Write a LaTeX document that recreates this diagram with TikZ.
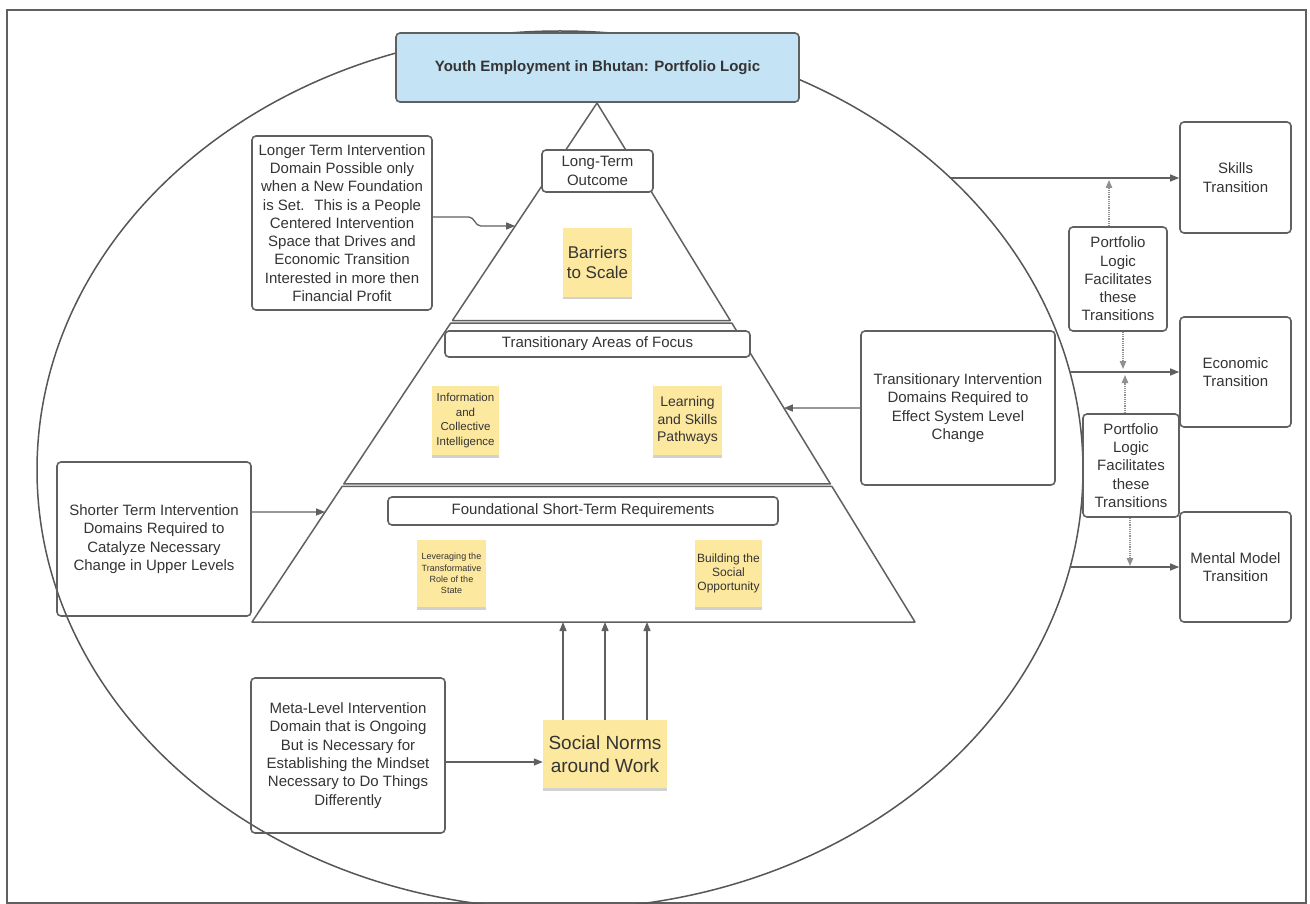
\documentclass[tikz,border=0pt]{standalone}
\usepackage{fontspec}
\setmainfont{Liberation Sans}
\usetikzlibrary{arrows.meta,calc,shadows}
\definecolor{ink}{RGB}{52,52,52}
\definecolor{edge}{RGB}{96,96,96}
\definecolor{titlefill}{RGB}{196,228,245}
\definecolor{sticky}{RGB}{253,232,160}

\begin{document}
\begin{tikzpicture}[x=1pt,y=-1pt,
  sz/.style 2 args={minimum width=#1pt,minimum height=#2pt},
  box/.style={draw=edge,line width=1.6pt,rounded corners=4pt,inner sep=0pt,
    align=center,text=ink,font=\fontsize{15}{18.3}\selectfont},
  note/.style={fill=sticky,inner sep=0pt,align=center,text=ink,
    drop shadow={shadow xshift=0pt,shadow yshift=-2.5pt,opacity=0.3,fill=black!60}},
  link/.style={draw=edge,line width=1.3pt,-{Triangle[length=9pt,width=7pt]}},
  hint/.style={draw=edge!70,line width=1.2pt,densely dotted,-{Triangle[length=8pt,width=6.5pt]}},
  pyr/.style={draw=edge,line width=1.5pt,line join=round},
]
\useasboundingbox (0,0) rectangle (1310,904);

% outer frame
\draw[edge,line width=1.2pt] (7,10) rectangle (1306,903);

% enclosing ellipse
\begin{scope}
  \clip (7,10) rectangle (1306,903);
  \draw[edge!90!black,line width=1.5pt] (560,470) ellipse [x radius=523pt, y radius=439pt];
\end{scope}
\coordinate (e1) at (950.5,178);
\coordinate (e2) at (1070,372);
\coordinate (e3) at (1070,567);

% pyramid corners
\coordinate (apex) at (597,103);
\coordinate (bl) at (252,622);
\coordinate (br) at (915,622);

% three stacked tiers
\draw[pyr] (apex) -- ($(apex)!0.4191!(bl)$) -- ($(apex)!0.4191!(br)$) -- cycle;
\draw[pyr] ($(apex)!0.4239!(bl)$) -- ($(apex)!0.7341!(bl)$) -- ($(apex)!0.7341!(br)$) -- ($(apex)!0.4239!(br)$) -- cycle;
\draw[pyr] ($(apex)!0.7389!(bl)$) -- (bl) -- (br) -- ($(apex)!0.7389!(br)$) -- cycle;

% points where side connectors meet the pyramid
\coordinate (pL1) at ($(apex)!0.2370!(bl)$);
\coordinate (pL2) at ($(apex)!0.7881!(bl)$);
\coordinate (pR)  at ($(apex)!0.5877!(br)$);

% title
\node[box,fill=titlefill,sz={403}{69},font=\bfseries\fontsize{15}{18}\selectfont]
  (title) at (597.5,67.5) {Youth Employment in Bhutan: Portfolio Logic};

% tier headers
\node[box,fill=white,sz={111}{42}] (lto) at (597.5,171) {Long-Term\\Outcome};
\node[box,fill=white,sz={305}{26}] (tfoc) at (597.5,344) {Transitionary Areas of Focus};
\node[box,fill=white,sz={390}{28}] (found) at (583,511) {Foundational Short-Term Requirements};

% sticky notes
\node[note,sz={69}{69},font=\fontsize{17}{20}\selectfont] (barriers) at (597.5,262.5) {Barriers\\to Scale};
\node[note,sz={67}{69},font=\fontsize{11.5}{14.5}\selectfont] (info) at (465.5,420.5) {Information\\and\\Collective\\Intelligence};
\node[note,sz={69}{69},font=\fontsize{14}{17.3}\selectfont] (learn) at (687.5,420.5) {Learning\\and Skills\\Pathways};
\node[note,sz={69}{67},font=\fontsize{9}{11.2}\selectfont] (lever) at (451.5,573.5) {Leveraging the\\Transformative\\Role of the\\State};
\node[note,sz={67}{67},font=\fontsize{12}{14.3}\selectfont] (build) at (728.5,573.5) {Building the\\Social\\Opportunity};
\node[note,sz={124}{68},font=\fontsize{19}{22.7}\selectfont] (norms) at (605,754) {Social Norms\\around Work};

% explanatory boxes
\node[box,sz={180}{174}] (longbox) at (342,223) {Longer Term Intervention\\Domain Possible only\\when a New Foundation\\is Set.~ This is a People\\Centered Intervention\\Space that Drives and\\Economic Transition\\Interested in more then\\Financial Profit};
\node[box,sz={194}{154}] (shortbox) at (154,539) {Shorter Term Intervention\\Domains Required to\\Catalyze Necessary\\Change in Upper Levels};
\node[box,sz={194}{155}] (metabox) at (348,755.5) {Meta-Level Intervention\\Domain that is Ongoing\\But is Necessary for\\Establishing the Mindset\\Necessary to Do Things\\Differently};
\node[box,sz={194}{154}] (transbox) at (958,408) {Transitionary Intervention\\Domains Required to\\Effect System Level\\Change};

% transitions
\node[box,sz={111}{111}] (skills) at (1235.5,177.5) {Skills\\Transition};
\node[box,sz={111}{110}] (econ) at (1235.5,372) {Economic\\Transition};
\node[box,sz={111}{110}] (mental) at (1235.5,567) {Mental Model\\Transition};
\node[box,sz={98}{104}] (pf1) at (1118,279) {Portfolio\\Logic\\Facilitates\\these\\Transitions};
\node[box,sz={96}{103}] (pf2) at (1131,465.5) {Portfolio\\Logic\\Facilitates\\these\\Transitions};

% connectors into the pyramid
\draw[link] ([yshift=6pt]longbox.east) -- ++(36,0) to[out=0,in=180] ++(12,9) -- (pL1);
\draw[link] ([yshift=27pt]shortbox.east) -- (pL2);
\draw[link] (transbox.west) -- (pR);
\draw[link] ([yshift=-6.5pt]metabox.east) -- ([yshift=-6.5pt]metabox.east -| norms.west);
\foreach \dx in {-42,0,42}
  \draw[link] ([xshift=\dx pt]norms.north) -- ([xshift=\dx pt]norms.north |- bl);

% connectors out to the transitions
\draw[link] (e1) -- (e1 -| skills.west);
\draw[link] (e2) -- (e2 -| econ.west);
\draw[link] (e3) -- (e3 -| mental.west);

% portfolio logic hints
\draw[hint] ([xshift=-9pt]pf1.north) -- ([xshift=-9pt,yshift=-2pt]pf1.north |- e1);
\draw[hint] ([xshift=5pt]pf1.south) -- ([xshift=5pt,yshift=3pt]pf1.south |- e2);
\draw[hint] ([xshift=-6pt]pf2.north) -- ([xshift=-6pt,yshift=-3pt]pf2.north |- e2);
\draw[hint] ([xshift=-1pt]pf2.south) -- ([xshift=-1pt,yshift=1pt]pf2.south |- e3);
\end{tikzpicture}
\end{document}
